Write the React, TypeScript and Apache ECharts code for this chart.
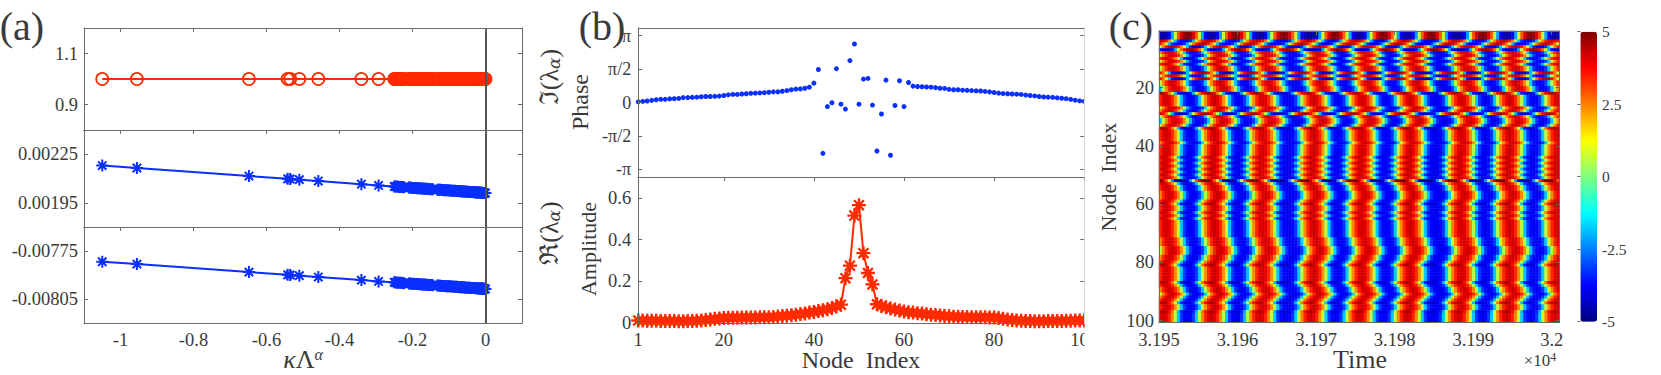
import React, { useEffect, useRef } from "react";
import * as echarts from "echarts";

// ---------- panel (a) ----------
const kappaLambda = [
  -1.05,-0.955,-0.648,-0.542,-0.535,-0.51,-0.458,-0.34,-0.293,
  -0.25,-0.247,-0.244,-0.241,-0.238,-0.235,-0.232,-0.229,-0.226,-0.223,
  -0.21,-0.207,-0.204,-0.2,-0.197,-0.194,-0.19,-0.187,-0.184,-0.181,
  -0.178,-0.175,-0.172,-0.169,-0.166,-0.163,-0.16,-0.157,-0.154,-0.151,
  -0.148,-0.144,-0.132,-0.129,-0.126,-0.123,-0.12,-0.117,-0.114,-0.111,
  -0.108,-0.105,-0.102,-0.099,-0.096,-0.093,-0.09,-0.087,-0.084,-0.081,
  -0.078,-0.075,-0.072,-0.07,-0.067,-0.065,-0.062,-0.06,-0.057,-0.055,
  -0.052,-0.05,-0.047,-0.045,-0.042,-0.04,-0.038,-0.036,-0.034,-0.032,
  -0.03,-0.028,-0.026,-0.024,-0.022,-0.02,-0.018,-0.016,-0.014,-0.012,
  -0.011,-0.01,-0.009,-0.008,-0.007,-0.006,-0.005,-0.004,-0.003,-0.002,0,
];
const imagTop = [
  1,1,1,1,1,1,1,1,1,1,1,1,1,1,1,1,1,1,1,1,1,1,1,1,1,1,1,1,1,1,1,1,1,1,1,1,1,1,1,1,1,1,1,1,1,1,1,1,1,1,
  1,1,1,1,1,1,1,1,1,1,1,1,1,1,1,1,1,1,1,1,1,1,1,1,1,1,1,1,1,1,1,1,1,1,1,1,1,1,1,1,1,1,1,1,1,1,1,1,1,1,
];
const realMiddle = [
  0.00218,0.002165,0.002115,0.002098,0.002097,0.002093,0.002084,0.002065,0.002057,
  0.002051,0.00205,0.00205,0.002049,0.002049,0.002048,0.002048,0.002047,0.002047,0.002046,
  0.002044,0.002044,0.002043,0.002042,0.002042,0.002041,0.002041,0.00204,0.00204,0.002039,
  0.002039,0.002038,0.002038,0.002037,0.002037,0.002036,0.002036,0.002035,0.002035,0.002034,
  0.002034,0.002033,0.002031,0.002031,0.00203,0.00203,0.002029,0.002029,0.002028,0.002028,
  0.002027,0.002027,0.002027,0.002026,0.002026,0.002025,0.002025,0.002024,0.002024,0.002023,
  0.002023,0.002022,0.002022,0.002021,0.002021,0.002021,0.00202,0.00202,0.002019,0.002019,
  0.002018,0.002018,0.002018,0.002017,0.002017,0.002016,0.002016,0.002016,0.002016,0.002015,
  0.002015,0.002015,0.002014,0.002014,0.002014,0.002013,0.002013,0.002013,0.002012,0.002012,
  0.002012,0.002012,0.002011,0.002011,0.002011,0.002011,0.002011,0.002011,0.00201,0.00201,0.00201,
];
const realBottom = [
  -0.007817,-0.007832,-0.007882,-0.007899,-0.0079,-0.007904,-0.007913,-0.007932,-0.00794,
  -0.007946,-0.007947,-0.007947,-0.007948,-0.007948,-0.007949,-0.007949,-0.00795,-0.00795,-0.007951,
  -0.007953,-0.007953,-0.007954,-0.007955,-0.007955,-0.007956,-0.007956,-0.007957,-0.007957,-0.007958,
  -0.007958,-0.007959,-0.007959,-0.00796,-0.00796,-0.007961,-0.007961,-0.007962,-0.007962,-0.007963,
  -0.007963,-0.007964,-0.007966,-0.007966,-0.007967,-0.007967,-0.007968,-0.007968,-0.007969,-0.007969,
  -0.00797,-0.00797,-0.00797,-0.007971,-0.007971,-0.007972,-0.007972,-0.007973,-0.007973,-0.007974,
  -0.007974,-0.007975,-0.007975,-0.007976,-0.007976,-0.007976,-0.007977,-0.007977,-0.007978,-0.007978,
  -0.007979,-0.007979,-0.007979,-0.00798,-0.00798,-0.007981,-0.007981,-0.007981,-0.007981,-0.007982,
  -0.007982,-0.007982,-0.007983,-0.007983,-0.007983,-0.007984,-0.007984,-0.007984,-0.007985,-0.007985,
  -0.007985,-0.007985,-0.007986,-0.007986,-0.007986,-0.007986,-0.007986,-0.007986,-0.007987,-0.007987,-0.007987,
];
const aXTicks = [-1, -0.8, -0.6, -0.4, -0.2, 0];

// ---------- panel (b) ----------
const nodes = [
  1,2,3,4,5,6,7,8,9,10,11,12,13,14,15,16,17,18,19,20,21,22,23,24,25,26,27,28,29,30,31,32,33,34,35,36,37,38,39,40,
  41,42,43,44,45,46,47,48,49,50,51,52,53,54,55,56,57,58,59,60,61,62,63,64,65,66,67,68,69,70,71,72,73,74,75,76,77,78,79,80,
  81,82,83,84,85,86,87,88,89,90,91,92,93,94,95,96,97,98,99,100,
];
const phase = [
  0.03,0.05,0.07,0.1,0.13,0.15,0.15,0.17,0.18,0.19,0.23,0.23,0.24,0.25,0.27,0.28,0.28,0.29,0.3,0.33,
  0.36,0.38,0.38,0.4,0.41,0.43,0.44,0.45,0.46,0.48,0.5,0.5,0.53,0.56,0.6,0.63,0.64,0.67,0.72,0.91,
  1.55,-2.39,-0.19,-0.01,1.59,-0.08,-0.31,1.97,2.75,-0.08,1.1,1.13,-0.12,-2.28,-0.54,1.05,-2.48,-0.14,1.02,-0.19,
  0.94,0.77,0.75,0.74,0.73,0.72,0.7,0.67,0.66,0.62,0.6,0.6,0.58,0.57,0.56,0.55,0.54,0.52,0.5,0.47,
  0.44,0.42,0.41,0.4,0.39,0.38,0.35,0.33,0.31,0.28,0.26,0.25,0.24,0.22,0.2,0.18,0.15,0.11,0.08,0.05,
];
const amplitude = [
  0.012,0.012,0.011,0.011,0.011,0.01,0.01,0.009,0.009,0.008,0.008,0.009,0.01,0.011,0.012,0.014,0.017,0.02,0.022,0.024,
  0.025,0.025,0.025,0.026,0.026,0.026,0.026,0.027,0.027,0.027,0.029,0.031,0.033,0.035,0.037,0.04,0.043,0.046,0.05,0.053,
  0.057,0.061,0.066,0.072,0.08,0.088,0.215,0.275,0.515,0.565,0.335,0.24,0.185,0.09,0.082,0.075,0.07,0.065,0.06,0.055,
  0.052,0.05,0.047,0.045,0.042,0.04,0.038,0.036,0.034,0.032,0.03,0.03,0.029,0.029,0.028,0.028,0.027,0.027,0.026,0.026,
  0.024,0.02,0.017,0.014,0.012,0.011,0.01,0.009,0.008,0.008,0.008,0.009,0.009,0.01,0.01,0.011,0.011,0.012,0.012,0.012,
];
const phaseTicks = [-3.1416, -1.5708, 0, 1.5708, 3.1416];
const phaseTickLabels = ["-π", "-π/2", "0", "π/2", "π"];

// ---------- panel (c) ----------
// The 100 x 133 field cannot be read cell by cell. It is stored as one time profile
// read along a typical row, plus a time offset (in px, see rowShift) and a saturation
// factor read for each node's row. Nothing here is random or analytic.
const timeProfile = [
  2.4,0.6,-1.8,-3.2,-3.7,-3.9,-3.7,-3.2,-1.8,0.6,2.4,3.4,4,
  4.2,4,3.4,2.4,0.6,-1.8,-3.2,-3.7,-3.9,-3.7,-3.2,-1.8,0.6,2.4,3.4,4,
  4.3,4,3.4,2.3,0.6,-1.8,-3.2,-3.7,-3.9,-3.8,-3.2,-1.9,0.5,2.4,3.4,4,
  4.2,4,3.4,2.4,0.6,-1.8,-3.2,-3.7,-3.9,-3.9,-3.7,-3.2,-1.8,0.6,2.4,3.4,4,
  4.3,4,3.4,2.3,0.6,-1.7,-3.2,-3.7,-3.9,-3.7,-3.2,-1.8,0.6,2.4,3.4,4,
  4.2,4,3.4,2.4,0.6,-1.8,-3.2,-3.7,-3.8,-3.7,-3.2,-1.8,0.6,2.4,3.4,4,
  4.3,4,3.4,2.4,0.6,-1.8,-3.2,-3.7,-3.9,-3.9,-3.7,-3.2,-1.8,0.6,2.4,3.4,4,
  4.2,4,3.4,2.4,0.5,-1.8,-3.2,-3.7,-3.9,-3.7,-3.2,-1.8,0.6,2.4,3.4,4,
  4.3,4,3.4,2.4,0.6,-1.8,-3.2,-3.7,-3.9,-3.7,-3.2,-1.8,0.6,2.4,3.4,4,
  4.2,4,3.4,2.4,0.6,-1.8,-3.2,-3.7,-3.9,-3.7,
];
const rowShift = [
  18,18,18,-8,-14,4,22,-1,2,-2,3,-3,3,3,-14,2,-14,2,4,6,
  5,-8,-3,-3,-3,-2,2,-1,-12,2,5,6,3,-6,-4,-3,-2,-2,-1,-2,
  -3,-4,-3,-6,-2,-6,-3,-6,-2,-6,-3,-12,-5,-4,-2,-1,1,1,-2,-6,
  -4,-2,-5,-3,-5,-4,-4,-4,-4,-3,-2,-1,0,1,2,2,2,1,0,-2,
  -5,-2,-3,-4,-3,-2,-6,-2,-1,1,2,0,-2,-6,-3,-3,-6,-5,-5,-5,
];
const rowGain = [
  1.2,1.2,1.2,1.05,1.05,1.05,1.15,1,1,1,1,1,1,1,1.1,1,1.1,1,1,1,
  1,1.1,1,1,1,1,1,1,1.1,1,1,1,1,1.1,1,1,1,1,1,1,
  1,1,1,1.03,1,1.03,1,1.03,1,1.03,1,1.25,1,1,1,1,1,1,1,1.08,
  1,1,1.03,1,1,1,1,1,1,1,1,1,1,1,1,1,1,1,1,1,
  1.08,1,1,1,1,1,1.08,1,1,1,1,1,1,1.08,1,1,1.08,1,1,1,
];
const timeTicks = [3.195, 3.196, 3.197, 3.198, 3.199, 3.2];
const nodeTicks = [20, 40, 60, 80, 100];
const colorTicks = [-5, -2.5, 0, 2.5, 5];
const jet = ["#00007f","#0000ff","#007fff","#00ffff","#7fff7f","#ffff00","#ff7f00","#ff0000","#7f0000"];

const SERIF = '"Liberation Serif", serif';
const RED = "#ff2a00";
const BLUE = "#0a30ff";
const AXIS = "#6a6a6a";
const TEXT = "#3a3a3a";
const STAR = "path://M0 -10L0 10M-10 0L10 0M-7 -7L7 7M-7 7L7 -7";
const MARGIN = 10; // spare profile columns on either side of the shown window

function App() {
  const ref = useRef<HTMLDivElement>(null);
  useEffect(() => {
    document.body.style.margin = "0";
    const chart = echarts.init(ref.current!, undefined, { renderer: "svg" });

    const grids: any[] = [];
    const xAxes: any[] = [];
    const yAxes: any[] = [];
    const lbl = (fmt?: any, margin = 6, size = 18.5) => ({
      show: true, color: TEXT, fontFamily: SERIF, fontSize: size, margin, formatter: fmt,
    });
    // one framed panel: a lower/left pair of axes that carry labels and an upper/right pair with ticks only
    const panel = (o: any) => {
      const g = grids.length;
      grids.push({ left: o.left, top: o.top, width: o.width, height: o.height });
      const xi = xAxes.length;
      const common = { gridIndex: g, type: "value", splitLine: { show: false }, z: 5 };
      const line = { show: true, onZero: false, lineStyle: { color: AXIS, width: 1 } };
      const tick = { show: true, inside: true, length: 4, lineStyle: { color: AXIS, width: 1 } };
      xAxes.push({
        ...common, position: "bottom", min: o.xMin, max: o.xMax, axisLine: line, axisTick: { show: false },
        axisLabel: o.xLabels ? { ...lbl(o.xFmt, o.xMargin ?? 7), customValues: o.xTicks } : { show: false },
      });
      xAxes.push({
        ...common, position: "top", min: o.xMin, max: o.xMax, axisLine: line,
        axisTick: o.topTicks === false ? { show: false } : { ...tick, customValues: o.xTicks },
        axisLabel: { show: false },
      });
      const yi = yAxes.length;
      yAxes.push({
        ...common, position: "left", min: o.yMin, max: o.yMax, inverse: !!o.yInverse, axisLine: line,
        axisTick: { ...tick, customValues: o.yTicks },
        axisLabel: { ...lbl(o.yFmt, o.yMargin ?? 6, o.ySize ?? 18.5), customValues: o.yTicks },
      });
      yAxes.push({
        ...common, position: "right", min: o.yMin, max: o.yMax, inverse: !!o.yInverse,
        axisLine: o.rightLine ?? line,
        axisTick: o.rightTicks === false ? { show: false } : { ...tick, customValues: o.yTicks },
        axisLabel: { show: false },
      });
      return { g, xi, yi };
    };

    const zeroLine = {
      silent: true, symbol: ["none", "none"], label: { show: false },
      lineStyle: { color: "#555", width: 2, type: "solid" }, data: [{ xAxis: 0 }],
    };
    const pairs = (xs: number[], ys: number[]) => xs.map((x, i) => [x, ys[i]]);
    const series: any[] = [];

    const aCommon = { left: 84, width: 438, xMin: -1.1, xMax: 0.1, xTicks: aXTicks };
    const a1 = panel({ ...aCommon, top: 28, height: 102, yMin: 0.8, yMax: 1.2, yTicks: [0.9, 1.1] });
    const a2 = panel({ ...aCommon, top: 130, height: 97, yMin: 0.0018, yMax: 0.0024, yTicks: [0.00195, 0.00225] });
    const a3 = panel({
      ...aCommon, top: 227, height: 96, yMin: -0.0082, yMax: -0.0076, yTicks: [-0.00805, -0.00775],
      xLabels: true, xFmt: (v: number) => String(v),
    });
    series.push({
      type: "line", data: pairs(kappaLambda, imagTop), xAxisIndex: a1.xi, yAxisIndex: a1.yi,
      symbol: "circle", symbolSize: 12, showAllSymbol: true, clip: false,
      lineStyle: { color: RED, width: 2 }, itemStyle: { color: "transparent", borderColor: RED, borderWidth: 1.8 },
      markLine: zeroLine,
    });
    [[a2, realMiddle], [a3, realBottom]].forEach(([p, ys]: any) => {
      series.push({
        type: "line", data: pairs(kappaLambda, ys), xAxisIndex: p.xi, yAxisIndex: p.yi,
        symbol: STAR, symbolSize: 12, showAllSymbol: true, clip: false,
        lineStyle: { color: BLUE, width: 2 }, itemStyle: { color: "transparent", borderColor: BLUE, borderWidth: 2 },
        markLine: zeroLine,
      });
    });

    const bCommon = { left: 638.2, width: 446, xMin: 1, xMax: 100, xTicks: [20, 40, 60, 80] };
    const b1 = panel({
      ...bCommon, top: 28, height: 149, yMin: -3.5, yMax: 3.5, yTicks: phaseTicks, topTicks: false,
      yFmt: (v: number) => phaseTickLabels[phaseTicks.indexOf(v)] ?? "", yMargin: 7, ySize: 18,
      rightLine: { show: true, onZero: false, lineStyle: { color: "#bdbdbd", width: 1 } },
    });
    const b2 = panel({
      ...bCommon, top: 177, height: 146, yMin: 0, yMax: 0.7, yTicks: [0, 0.2, 0.4, 0.6],
      xTicks: [1, 20, 40, 60, 80, 100], xLabels: true, xFmt: (v: number) => String(v), yMargin: 7,
      rightLine: { show: true, onZero: false, lineStyle: { color: "#bdbdbd", width: 1 } },
    });
    series.push({
      type: "scatter", data: pairs(nodes, phase), xAxisIndex: b1.xi, yAxisIndex: b1.yi,
      symbol: "circle", symbolSize: 5, clip: false, itemStyle: { color: BLUE, opacity: 1 },
    });
    series.push({
      type: "line", data: pairs(nodes, amplitude), xAxisIndex: b2.xi, yAxisIndex: b2.yi,
      symbol: STAR, symbolSize: 14, showAllSymbol: true, clip: false,
      lineStyle: { color: RED, width: 2 }, itemStyle: { color: "transparent", borderColor: RED, borderWidth: 2.4 },
    });

    // heat map: hidden category axes carry the cells, value axes on the same grid carry the ticks
    const c = panel({
      left: 1159, width: 400.6, top: 31, height: 291, xMin: 3.195, xMax: 3.2001, xTicks: timeTicks,
      yMin: 0.5, yMax: 100.5, yInverse: true, yTicks: nodeTicks, xLabels: true, xFmt: (v: number) => String(v),
      xMargin: 8, yMargin: 5,
    });
    const cols = timeProfile.length - 2 * MARGIN;
    const cells: number[][] = [];
    for (let r = 0; r < rowShift.length; r++) {
      const off = Math.round(rowShift[r] / 3);
      for (let k = 0; k < cols; k++) {
        const v = timeProfile[k + MARGIN - off] * rowGain[r];
        cells.push([k, r, v]);
      }
    }
    const hx = xAxes.length;
    xAxes.push({
      gridIndex: c.g, type: "category", show: false, boundaryGap: true,
      data: timeProfile.slice(MARGIN, MARGIN + cols).map((_, i) => i),
    });
    const hy = yAxes.length;
    yAxes.push({
      gridIndex: c.g, type: "category", show: false, boundaryGap: true, inverse: true,
      data: rowShift.map((_, i) => i),
    });
    const heatIndex = series.length;
    series.push({
      type: "heatmap", data: cells, xAxisIndex: hx, yAxisIndex: hy, progressive: 0,
      itemStyle: { borderWidth: 0 }, emphasis: { disabled: true },
    });

    // colour bar ticks and labels
    const gBar = grids.length;
    grids.push({ left: 1580.4, top: 31.7, width: 16.6, height: 290 });
    const barX = xAxes.length;
    xAxes.push({ gridIndex: gBar, type: "value", min: 0, max: 1, show: false });
    const barY = yAxes.length;
    yAxes.push({
      gridIndex: gBar, type: "value", position: "right", min: -5, max: 5, interval: 2.5, z: 5,
      splitLine: { show: false }, axisLine: { show: false },
      axisTick: { show: true, inside: true, length: 3, lineStyle: { color: AXIS } },
      axisLabel: { color: TEXT, fontFamily: SERIF, fontSize: 15.5, margin: 5, customValues: colorTicks },
    });
    series.push({ type: "line", data: [], xAxisIndex: barX, yAxisIndex: barY });

    const gtext = (text: string, x: number, y: number, fontSize: number, extra: any = {}) => ({
      type: "text", x, y, z: 200, rotation: extra.rotation ?? 0,
      style: {
        text, fontSize, fontFamily: extra.family ?? SERIF,
        fill: extra.fill ?? TEXT, align: extra.align ?? "center", verticalAlign: "middle", rich: extra.rich,
      },
    });
    const sub = { sub: { fontSize: 17, fontFamily: "DejaVu Serif", fontStyle: "italic", fill: TEXT, verticalAlign: "bottom", padding: [7, 0, 0, 0] } };
    const VERT = Math.PI / 2;

    chart.setOption({
      animation: false,
      backgroundColor: "#fff",
      grid: grids, xAxis: xAxes, yAxis: yAxes, series,
      visualMap: {
        type: "continuous", seriesIndex: heatIndex, min: -5, max: 5, show: true, calculable: false,
        left: 1580.4, top: 31.7, itemWidth: 16.6, itemHeight: 290, text: ["", ""], textGap: 0, padding: 0,
        showLabel: false, inRange: { color: jet }, hoverLink: false,
      },
      graphic: [
        // the original crops panel (b) at its right edge, including its last tick label
        { type: "rect", z: 150, shape: { x: 1084.6, y: 28, width: 20, height: 325 }, style: { fill: "#fff" } },
        gtext("(a)", 22, 26, 40),
        gtext("(b)", 602, 26, 40),
        gtext("(c)", 1131, 26, 40),
        gtext("ℑ(λ{sub|α})", 549, 77, 26, { rotation: VERT, family: "Liberation Serif", rich: sub }),
        gtext("ℜ(λ{sub|α})", 549, 233, 26, { rotation: VERT, family: "Liberation Serif", rich: sub }),
        gtext("Phase", 580, 102, 24, { rotation: VERT }),
        gtext("Amplitude", 588, 249, 22, { rotation: VERT }),
        gtext("Node  Index", 1108, 177, 22, { rotation: VERT }),
        gtext("Node  Index", 861, 360, 24),
        gtext("Time", 1360, 359, 26),
        gtext("{k|κ}Λ{sup|α}", 303, 359, 26, {
          rich: {
            k: { fontSize: 26, fontStyle: "italic", fontFamily: SERIF, fill: TEXT },
            sup: { fontSize: 16, fontStyle: "italic", fontFamily: SERIF, fill: TEXT, verticalAlign: "top", padding: [0, 0, 8, 0] },
          },
        }),
        gtext("×10{sup|4}", 1540, 360, 17, {
          rich: { sup: { fontSize: 12, fontFamily: SERIF, fill: TEXT, verticalAlign: "top", padding: [0, 0, 6, 0] } },
        }),
      ],
    });
    return () => chart.dispose();
  }, []);
  return <div ref={ref} style={{ position: "absolute", left: 0, top: 0, width: 1661, height: 375 }} />;
}

export default App;
